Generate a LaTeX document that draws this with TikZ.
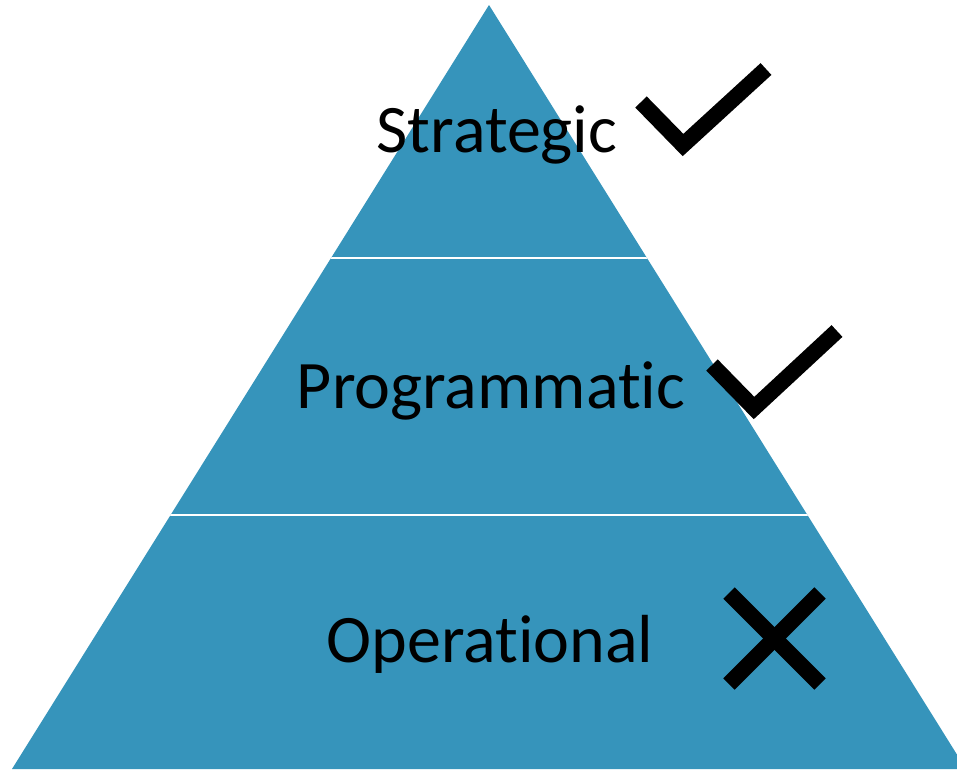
\documentclass[tikz,border=0pt]{standalone}
\usepackage{fontspec}
\setmainfont[Ligatures=NoCommon]{Carlito}
\definecolor{pyr}{HTML}{3694BB}
\begin{document}
\begin{tikzpicture}[x=1pt,y=-1pt,
  lbl/.style={anchor=base, inner sep=0pt, font=\fontsize{68}{80}\selectfont, text=black},
  tickmark/.style={draw=black, line width=16pt, line cap=butt, line join=miter}]
\useasboundingbox (0,0) rectangle (957,769);
\begin{scope}
\clip (0,0) rectangle (957,769);
\coordinate (apex) at (489,5);
\coordinate (bl) at (12,769);
\coordinate (br) at (966,769);
\fill[pyr] (apex) -- (bl) -- (br) -- cycle;
\begin{scope}
\clip (apex) -- (bl) -- (br) -- cycle;
\draw[white, line width=2.5pt] (0,258) -- (957,258);
\draw[white, line width=2.5pt] (0,515) -- (957,515);
\end{scope}
\end{scope}
\node[lbl] (s) at (497,152) {Strategic};
\node[lbl] (p) at (491,408) {Programmatic};
\node[lbl] (o) at (490,662) {Operational};
\draw[tickmark] (641,102) -- (683,145) -- (766,69);
\draw[tickmark] (712,365) -- (754,408) -- (837,331);
\draw[tickmark] (729,593) -- (820,684);
\draw[tickmark] (820,593) -- (729,684);
\end{tikzpicture}
\end{document}
